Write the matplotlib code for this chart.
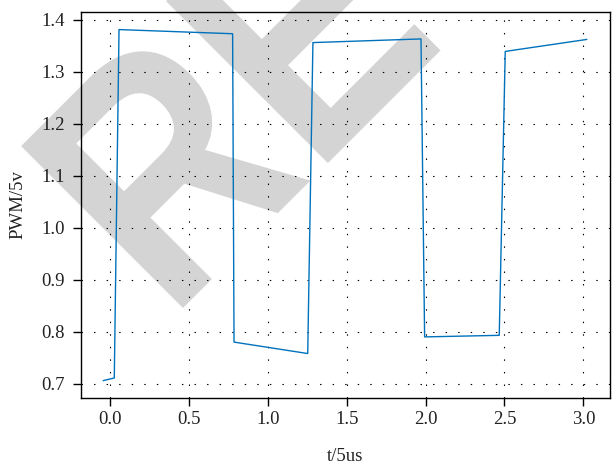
import matplotlib
matplotlib.use('Agg')
import matplotlib.pyplot as plt
from matplotlib.textpath import TextPath
from matplotlib.font_manager import FontProperties
from matplotlib.patches import PathPatch
from matplotlib.path import Path
from matplotlib.transforms import Affine2D, IdentityTransform
import numpy as np

# ---- data ----
t_values = [-0.042, 0.027, 0.057, 0.777, 0.786, 1.253, 1.286, 1.971, 1.994, 2.467, 2.505, 3.021]
pwm_values = [0.706, 0.711, 1.381, 1.373, 0.780, 0.758, 1.356, 1.363, 0.790, 0.793, 1.339, 1.362]
x_ticks = [0.0, 0.5, 1.0, 1.5, 2.0, 2.5, 3.0]
y_ticks = [0.7, 0.8, 0.9, 1.0, 1.1, 1.2, 1.3, 1.4]
x_label = "t/5us"
y_label = "PWM/5v"
watermark_text = "RETRACTED"

W, H = 613, 465
fig = plt.figure(figsize=(W / 100, H / 100), dpi=100)

# ---- diagonal watermark behind the chart ----
fp = FontProperties(family='Liberation Sans', weight='bold')

def _verts(p):
    return p.vertices[p.codes != Path.CLOSEPOLY] if p.codes is not None else p.vertices

ref = _verts(TextPath((0, 0), "R", size=100, prop=fp))
cap = ref[:, 1].max()
size = 100 * 229 / cap
r_v = _verts(TextPath((0, 0), "R", size=size, prop=fp))
rmin, rmax = r_v[:, 0].min(), r_v[:, 0].max()
re_v = _verts(TextPath((0, 0), "RE", size=size, prop=fp))
emin = re_v[re_v[:, 0] > rmax + 1e-6, 0].min()
sx = 205 / (emin - rmin)
tp = TextPath((0, 0), watermark_text, size=size, prop=fp)
tr = Affine2D().translate(-rmin, 0).scale(sx, 1).rotate_deg(45).translate(183, H - 308)
wm = PathPatch(tr.transform_path(tp), facecolor='#d4d4d4', edgecolor='none',
               transform=IdentityTransform(), zorder=-5)
fig.add_artist(wm)

# ---- axes ----
ax = fig.add_axes([81 / W, 1 - 398 / H, 529 / W, 386 / H])
ax.set_facecolor('none')

ax.plot(t_values, pwm_values, color='#0072BD', lw=1.0, zorder=3)

ax.set_xlim(-0.184, 3.169)
ax.set_ylim(0.6725, 1.4148)
ax.set_xticks(x_ticks)
ax.set_yticks(y_ticks)
ax.set_xticklabels([f"{v:.1f}" for v in x_ticks])
ax.set_yticklabels([f"{v:.1f}" for v in y_ticks])

serif = ['Liberation Serif', 'DejaVu Serif']
FS = 13.5
for lab in ax.get_xticklabels() + ax.get_yticklabels():
    lab.set_fontfamily(serif)
    lab.set_fontsize(FS)
    lab.set_color('#222222')

ax.tick_params(axis='both', direction='out', length=6, width=1.0, color='black')
ax.tick_params(axis='x', pad=3.5)
ax.tick_params(axis='y', pad=5.5)

ax.grid(True, color='black', linestyle=(0, (1.3, 10)), linewidth=0.8)

for s in ax.spines.values():
    s.set_color('black')
    s.set_linewidth(1.0)

ax.set_xlabel(x_label, fontsize=FS, family=serif, color='#222222', labelpad=14)
ax.set_ylabel(y_label, fontsize=FS, family=serif, color='#222222', labelpad=11)

fig.savefig('out.png', dpi=100)
